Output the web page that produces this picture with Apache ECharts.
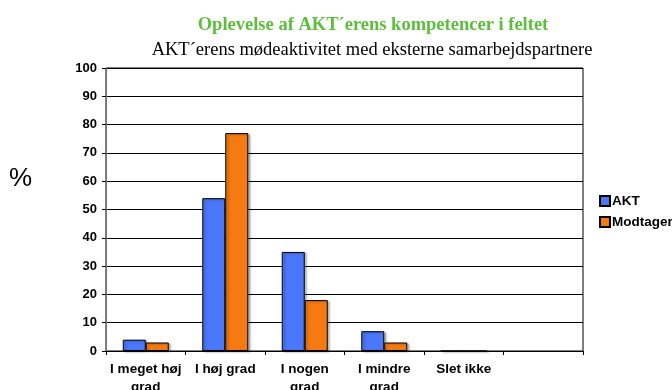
<!DOCTYPE html>
<html>
<head>
<meta charset="utf-8">
<script src="https://cdn.jsdelivr.net/npm/echarts@6/dist/echarts.min.js"></script>
<style>
  html, body { margin: 0; padding: 0; background: #fff; }
  #chart { width: 672px; height: 390px; }
</style>
</head>
<body>
<div id="chart"></div>
<script>
// Response categories (last slot is an empty column in the layout)
const categories = ['I meget høj\ngrad', 'I høj grad', 'I nogen\ngrad', 'I mindre\ngrad', 'Slet ikke', ''];
// Percentages per group
const aktValues = [4, 54, 35, 7, 0, null];
const modtagerValues = [3, 77, 18, 3, 0, null];
const yTicks = { min: 0, max: 100, interval: 10 };

const chart = echarts.init(document.getElementById('chart'));

const barStyle = (color) => ({
  color: color,
  borderColor: '#000',
  borderWidth: 1,
  shadowColor: 'rgba(0,0,0,0.3)',
  shadowOffsetX: 2,
  shadowOffsetY: 1,
  shadowBlur: 2
});

chart.setOption({
  animation: false,
  title: [
    {
      text: 'Oplevelse af AKT´erens kompetencer i feltet',
      left: 368, top: 11, textAlign: 'center',
      textStyle: { fontFamily: 'Liberation Serif', fontWeight: 'bold', fontSize: 18.5, color: '#5cbf3a' }
    },
    {
      text: 'AKT´erens mødeaktivitet med eksterne samarbejdspartnere',
      left: 367, top: 36, textAlign: 'center',
      textStyle: { fontFamily: 'Liberation Serif', fontWeight: 'normal', fontSize: 18.5, color: '#000' }
    }
  ],
  graphic: [
    {
      type: 'text', left: 9, top: 166,
      style: { text: '%', fontFamily: 'Liberation Sans', fontSize: 26, fill: '#000' }
    }
  ],
  legend: {
    orient: 'vertical',
    left: 594, top: 189,
    itemWidth: 10, itemHeight: 10, itemGap: 7,
    icon: 'rect',
    textStyle: { fontFamily: 'Liberation Sans', fontWeight: 'bold', fontSize: 13.5, color: '#000', padding: [0, 0, 0, -3] },
    data: ['AKT', 'Modtager']
  },
  grid: {
    left: 106, right: 89, top: 68, bottom: 39,
    outerBoundsMode: 'none',
    show: true, borderColor: '#000', borderWidth: 1
  },
  xAxis: {
    type: 'category',
    data: categories,
    axisLine: { lineStyle: { color: '#000', width: 1 } },
    axisTick: { show: true, length: 4, lineStyle: { color: '#000' } },
    axisLabel: {
      interval: 0, margin: 9, lineHeight: 18,
      fontFamily: 'Liberation Sans', fontWeight: 'bold', fontSize: 13.5, color: '#000'
    }
  },
  yAxis: {
    type: 'value',
    min: yTicks.min, max: yTicks.max, interval: yTicks.interval,
    axisLine: { show: true, lineStyle: { color: '#777', width: 1 } },
    axisTick: { show: true, length: 4, lineStyle: { color: '#000' } },
    splitLine: { lineStyle: { color: '#000', width: 1 } },
    axisLabel: { margin: 9, fontFamily: 'Liberation Sans', fontWeight: 'bold', fontSize: 13, color: '#000' }
  },
  series: [
    {
      name: 'AKT', type: 'bar', data: aktValues,
      barWidth: 23, barGap: '0%',
      itemStyle: barStyle('#4b77fb')
    },
    {
      name: 'Modtager', type: 'bar', data: modtagerValues,
      barWidth: 23, barGap: '0%',
      itemStyle: barStyle('#f57a12')
    }
  ]
});
</script>
</body>
</html>
